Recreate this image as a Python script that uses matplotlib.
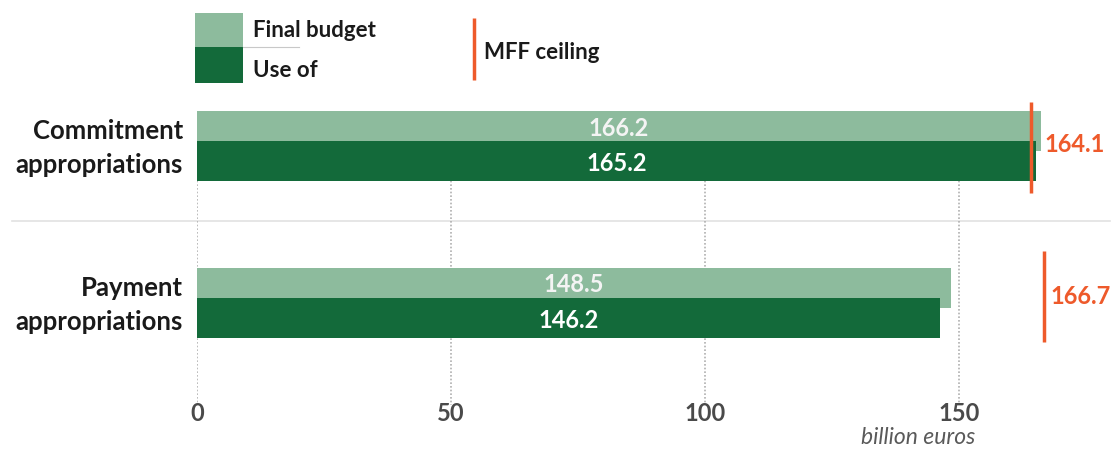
import matplotlib
matplotlib.use("Agg")
import matplotlib.pyplot as plt
from matplotlib.patches import Rectangle

# data
categories = [("Commitment", "appropriations"), ("Payment", "appropriations")]
final_budget = [166.2, 148.5]
use_of = [165.2, 146.2]
mff_ceiling = [164.1, 166.7]
ticks = [0, 50, 100, 150]

light = "#8dbb9d"
dark = "#136a3a"
orange = "#ee5a2b"
grey_txt = "#4a4a4a"

plt.rcParams["font.family"] = ["Lato", "DejaVu Sans"]

W, H = 1116, 450
fig = plt.figure(figsize=(W / 100, H / 100), dpi=100)

# pixel helpers for the vertical layout
y0, gap = 146, 156.5
def py(p):
    return (p - y0) / gap
def ph(p):
    return p / gap

x_left = 197
px_per_unit = 5.08
ax = fig.add_axes([x_left / W, 0, 1 - x_left / W, 1])
ax.set_xlim(0, (W - x_left) / px_per_unit)
ax.set_ylim(py(H), py(0))
ax.axis("off")

# dotted gridlines
for t in ticks:
    ax.plot([t, t], [py(111), py(405)], color="#b0b0b0", lw=1.2,
            linestyle=(0, (1, 1.2)), zorder=1)
    ax.text(t, py(421), str(t), ha="center", va="baseline", fontsize=17,
            fontweight="bold", color=grey_txt)
ax.text((975 - x_left) / px_per_unit, py(444), "billion euros", ha="right",
        va="baseline", fontsize=16.5, style="italic", color="#5a5a5a")

for i, (l1, l2) in enumerate(categories):
    ax.barh(i - ph(15), final_budget[i], height=ph(40), color=light, zorder=2)
    ax.barh(i + ph(15), use_of[i], height=ph(40), color=dark, zorder=3)
    ax.text(final_budget[i] / 2, i - ph(10), f"{final_budget[i]:.1f}",
            ha="center", va="baseline", fontsize=17, fontweight="bold",
            color="#f4f4f4", zorder=4)
    ax.text(use_of[i] / 2, i + ph(25), f"{use_of[i]:.1f}",
            ha="center", va="baseline", fontsize=17, fontweight="bold",
            color="white", zorder=4)
    ax.text(-2.8, i - ph(7), l1, ha="right", va="baseline", fontsize=18.5,
            fontweight="bold", color="#1a1a1a")
    ax.text(-2.8, i + ph(27), l2, ha="right", va="baseline", fontsize=18.5,
            fontweight="bold", color="#1a1a1a")

# MFF ceiling markers
ax.plot([mff_ceiling[0]] * 2, [py(102), py(193)], color=orange, lw=2.5,
        zorder=5, solid_capstyle="butt")
ax.text(mff_ceiling[0] + 2.8, py(144), f"{mff_ceiling[0]:.1f}", ha="left",
        va="center", fontsize=17, fontweight="bold", color=orange)
ax.plot([mff_ceiling[1]] * 2, [py(251), py(342)], color=orange, lw=2.5,
        zorder=5, solid_capstyle="butt")
ax.text(mff_ceiling[1] + 1.3, py(296), f"{mff_ceiling[1]:.1f}", ha="left",
        va="center", fontsize=17, fontweight="bold", color=orange)

# overlay for legend and separator, in pixels
ov = fig.add_axes([0, 0, 1, 1], zorder=-1)
ov.set_xlim(0, W)
ov.set_ylim(H, 0)
ov.axis("off")
ov.plot([12, 1110], [221, 221], color="#e2e2e2", lw=1.2)

lg = fig.add_axes([0, 0, 1, 1])
lg.set_xlim(0, W)
lg.set_ylim(H, 0)
lg.axis("off")
lg.add_patch(Rectangle((195, 13), 48, 34, color=light, lw=0))
lg.add_patch(Rectangle((195, 47), 48, 36, color=dark, lw=0))
lg.plot([243, 299], [47, 47], color="#c8c8c8", lw=0.8)
lg.text(253, 37, "Final budget", ha="left", va="baseline", fontsize=16,
        fontweight="bold", color="#1a1a1a")
lg.text(253, 77, "Use of", ha="left", va="baseline", fontsize=16,
        fontweight="bold", color="#1a1a1a")
lg.plot([474, 474], [18, 80], color=orange, lw=2.5, solid_capstyle="butt")
lg.text(484, 59, "MFF ceiling", ha="left", va="baseline", fontsize=16,
        fontweight="bold", color="#1a1a1a")

fig.savefig("out.png", dpi=100, facecolor="white")
